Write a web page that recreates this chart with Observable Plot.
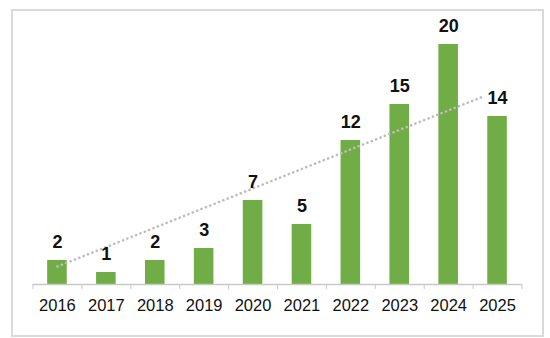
<!DOCTYPE html>
<html>
<head>
<meta charset="utf-8">
<script src="https://cdn.jsdelivr.net/npm/d3@7"></script>
<script src="https://cdn.jsdelivr.net/npm/@observablehq/plot@0.6"></script>
<style>
  html, body { margin: 0; padding: 0; background: #fff; }
  #wrap { position: relative; width: 550px; height: 338px; overflow: hidden; }
  #border { position: absolute; left: 11px; top: 9px; width: 533px; height: 328px; box-sizing: border-box; border: 2px solid #dadada; pointer-events: none; }
  #chart { position: absolute; left: 0; top: 0; }
</style>
</head>
<body>
<div id="wrap"><div id="chart"></div><div id="border"></div></div>
<script>
const years = [2016, 2017, 2018, 2019, 2020, 2021, 2022, 2023, 2024, 2025];
const counts = [2, 1, 2, 3, 7, 5, 12, 15, 20, 14];
const trendYears = [2016, 2024.71];
const trendValues = [1.5, 15.67];

const data = years.map((y, i) => ({year: y, count: counts[i]}));
const trend = trendYears.map((y, i) => ({year: y, value: trendValues[i]}));
const boundaries = [years[0] - 0.5, ...years.map(y => y + 0.5)];

const font = "'Liberation Sans', Arial, sans-serif";

const chart = Plot.plot({
  width: 550,
  height: 338,
  marginLeft: 32.5,
  marginRight: 28.5,
  marginTop: 20,
  marginBottom: 54,
  style: {fontFamily: font, background: "transparent", overflow: "visible"},
  x: {domain: [years[0] - 0.5, years[years.length - 1] + 0.5], axis: null},
  y: {domain: [0, 22], axis: null},
  marks: [
    Plot.rectY(data, {x1: d => d.year - 0.2, x2: d => d.year + 0.2, y: "count", fill: "#70ad47"}),
    Plot.ruleY([0], {stroke: "#c8c8c8", strokeWidth: 1.5}),
    Plot.axisX({ticks: boundaries, tickSize: 5, tickFormat: () => "", stroke: "#c8c8c8", label: null}),
    Plot.axisX({ticks: years, tickSize: 0, tickPadding: 15, tickFormat: d => String(d), fontSize: 16.5, fill: "#111", label: null}),
    Plot.line(trend, {x: "year", y: "value", stroke: "#bdbdbd", strokeWidth: 2.6, strokeDasharray: "0.1 4.6", strokeLinecap: "round"}),
    Plot.text(data, {x: "year", y: "count", text: d => String(d.count), dy: -18, lineAnchor: "middle", fontSize: 18, fontWeight: "bold", fill: "#111"})
  ]
});
document.getElementById("chart").appendChild(chart);
</script>
</body>
</html>
